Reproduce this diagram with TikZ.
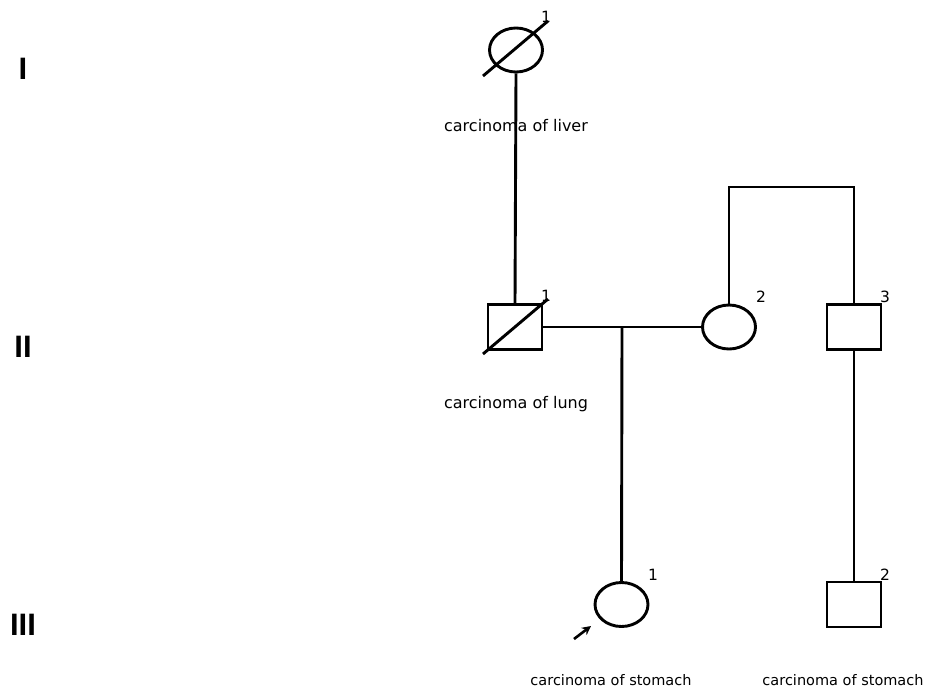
\documentclass[tikz,border=0pt]{standalone}
\usepackage{fontspec}
\setmainfont{DejaVu Sans}
\newfontfamily\numeralfont{Liberation Sans}
\usetikzlibrary{shapes.geometric,arrows.meta}
\begin{document}
\begin{tikzpicture}[x=1pt,y=-1pt,
  line width=2.9pt,
  female/.style={draw,ellipse,minimum width=53pt,minimum height=44pt,inner sep=0pt},
  male/.style={draw,rectangle,minimum width=54pt,minimum height=45pt,inner sep=0pt},
  idnum/.style={font=\fontsize{15.5}{16}\selectfont,inner sep=0pt},
  disease/.style={font=\fontsize{14.5}{15}\selectfont,inner sep=0pt},
  gen/.style={font=\numeralfont\fontsize{31}{31}\bfseries\selectfont,inner sep=0pt}]
\useasboundingbox (0,0) rectangle (925,690);

% generation numerals
\node[gen] (genI)   at (23,69)  {I};
\node[gen] (genII)  at (23,347) {II};
\node[gen] (genIII) at (23,625) {III};

% individuals
\node[female] (I1)   at (516,50)    {};
\node[male]   (II1)  at (515,327)   {};
\node[female] (II2)  at (729,327)   {};
\node[male]   (II3)  at (854,327)   {};
\node[female] (III1) at (621.5,604.5) {};
\node[male]   (III2) at (854,604.5) {};

% individual numbers
\node[idnum] (nI1)   at (546,17)  {1};
\node[idnum] (nII1)  at (546,296) {1};
\node[idnum] (nII2)  at (761,297) {2};
\node[idnum] (nII3)  at (885,297) {3};
\node[idnum] (nIII1) at (653,575) {1};
\node[idnum] (nIII2) at (885,575) {2};

% diagnoses
\node[disease,font=\fontsize{16}{16}\selectfont] (dI1)  at (516,126) {carcinoma of liver};
\node[disease,font=\fontsize{16}{16}\selectfont] (dII1) at (516,404) {carcinoma of lung};
\node[disease] (dIII1) at (611,680) {carcinoma of stomach};
\node[disease] (dIII2) at (843,680) {carcinoma of stomach};

% helper points
\coordinate (mate) at (622,327);
\coordinate (sibL) at (729,187);
\coordinate (sibR) at (854,187);

% lines of descent
\draw (I1.south) -- (II1.north);
\draw (II1.east) -- (II2.west);
\draw (mate) -- (III1.north);
\draw (II2.north) -- (sibL) -- (sibR) -- (II3.north);
\draw (II3.south) -- (III2.north);

% deceased marks
\coordinate (dsA) at (483,76);
\coordinate (dsB) at (548,21);
\coordinate (dsC) at (483,354);
\coordinate (dsD) at (548,299);
\draw (dsA) -- (dsB);
\draw (dsC) -- (dsD);

% proband arrow
\coordinate (pa) at (574,639);
\coordinate (pb) at (591,626);
\draw[line width=2.6pt,-{Stealth[length=9pt,width=9pt]}] (pa) -- (pb);
\end{tikzpicture}
\end{document}
